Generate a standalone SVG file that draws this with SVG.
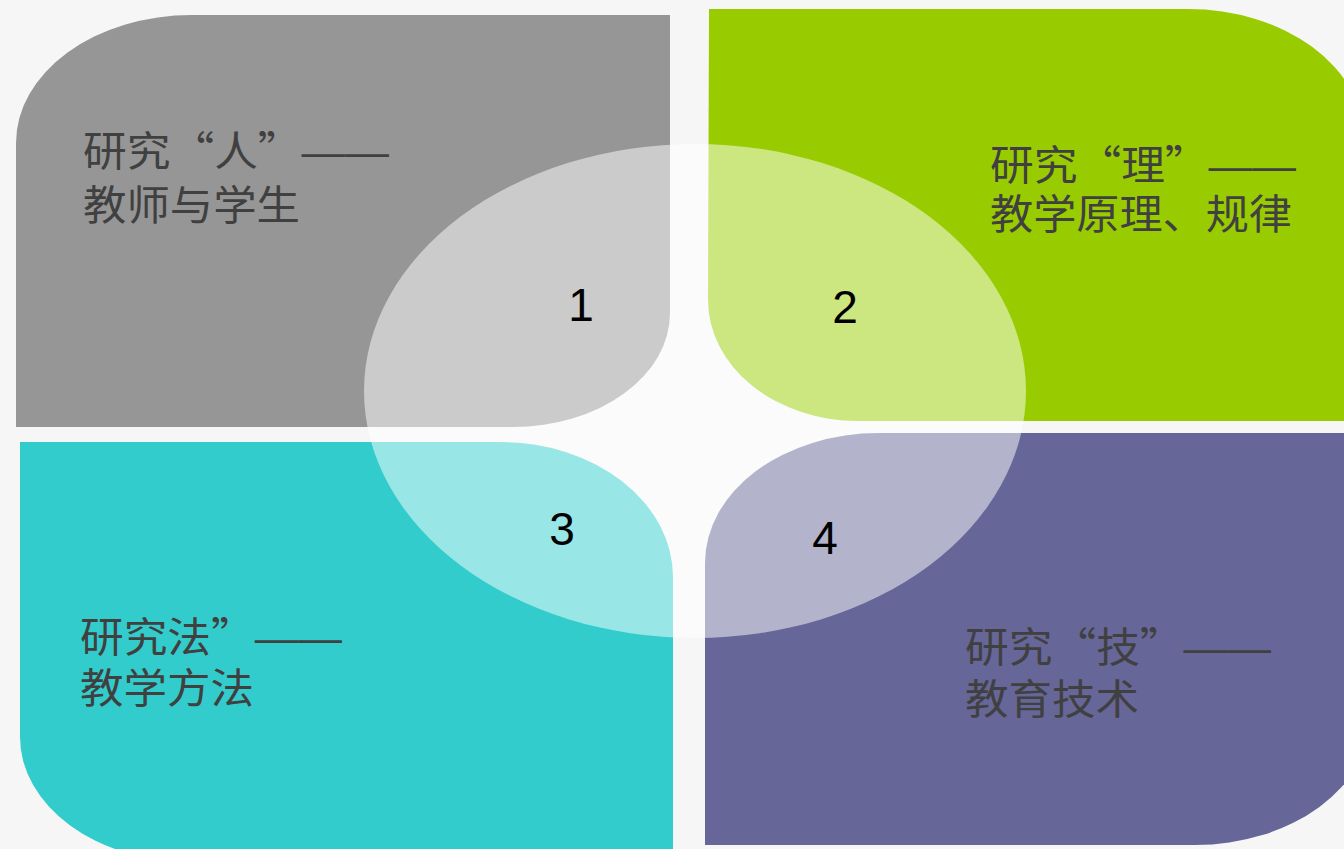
<svg xmlns="http://www.w3.org/2000/svg" width="1344" height="849" viewBox="0 0 1344 849">
<style>
.lbl{font-family:"Noto Sans CJK SC","Noto Sans",sans-serif;font-size:41px;fill:#404040}
.dash{font-family:"Liberation Sans",Arial,sans-serif}
.num{font-family:"Liberation Sans",Arial,sans-serif;font-size:46px;fill:#000;text-anchor:middle}
</style>
<rect x="0" y="0" width="1344" height="849" fill="#f6f6f6"/>
<g id="node-people">
<path d="M16 143 A176 128 0 0 1 192 15 L670 15 L670 313 A157 114 0 0 1 513 427 L16 427 Z" fill="#969696"/>
</g>
<g id="node-theory">
<path d="M709 9 L1188 9 A176 130 0 0 1 1364 139 L1364 421 L858 421 A150 121 0 0 1 708 300 Z" fill="#99cc00"/>
</g>
<g id="node-method">
<path d="M20 442 L500 442 A173 135 0 0 1 673 577 L673 870 L191 862 A171 125 0 0 1 20 737 Z" fill="#33cccc"/>
</g>
<g id="node-tech">
<path d="M705 563 A174 130 0 0 1 879 433 L1371 433 L1371 715 A176 130 0 0 1 1195 845 L705 845 Z" fill="#666699"/>
</g>
<g id="center-ellipse">
<ellipse cx="695" cy="391" rx="331" ry="247" fill="#ffffff" fill-opacity="0.5"/>
</g>
<g id="labels">
<text class="lbl" x="83" y="166" textLength="306" lengthAdjust="spacingAndGlyphs">研究“人”<tspan class="dash">——</tspan></text>
<text class="lbl" x="83" y="220" textLength="217" lengthAdjust="spacingAndGlyphs">教师与学生</text>
<text class="lbl" x="990" y="180" textLength="306" lengthAdjust="spacingAndGlyphs">研究“理”<tspan class="dash">——</tspan></text>
<text class="lbl" x="990" y="229" textLength="302" lengthAdjust="spacingAndGlyphs">教学原理、规律</text>
<text class="lbl" x="80" y="652" textLength="262" lengthAdjust="spacingAndGlyphs">研究法”<tspan class="dash">——</tspan></text>
<text class="lbl" x="80" y="703" textLength="174" lengthAdjust="spacingAndGlyphs">教学方法</text>
<text class="lbl" x="965" y="662" textLength="306" lengthAdjust="spacingAndGlyphs">研究“技”<tspan class="dash">——</tspan></text>
<text class="lbl" x="965" y="714" textLength="174" lengthAdjust="spacingAndGlyphs">教育技术</text>
</g>
<g id="numbers">
<text class="num" x="581" y="321">1</text>
<text class="num" x="845" y="323">2</text>
<text class="num" x="562" y="545">3</text>
<text class="num" x="825" y="554">4</text>
</g>
<g id="connectors"></g>
</svg>
